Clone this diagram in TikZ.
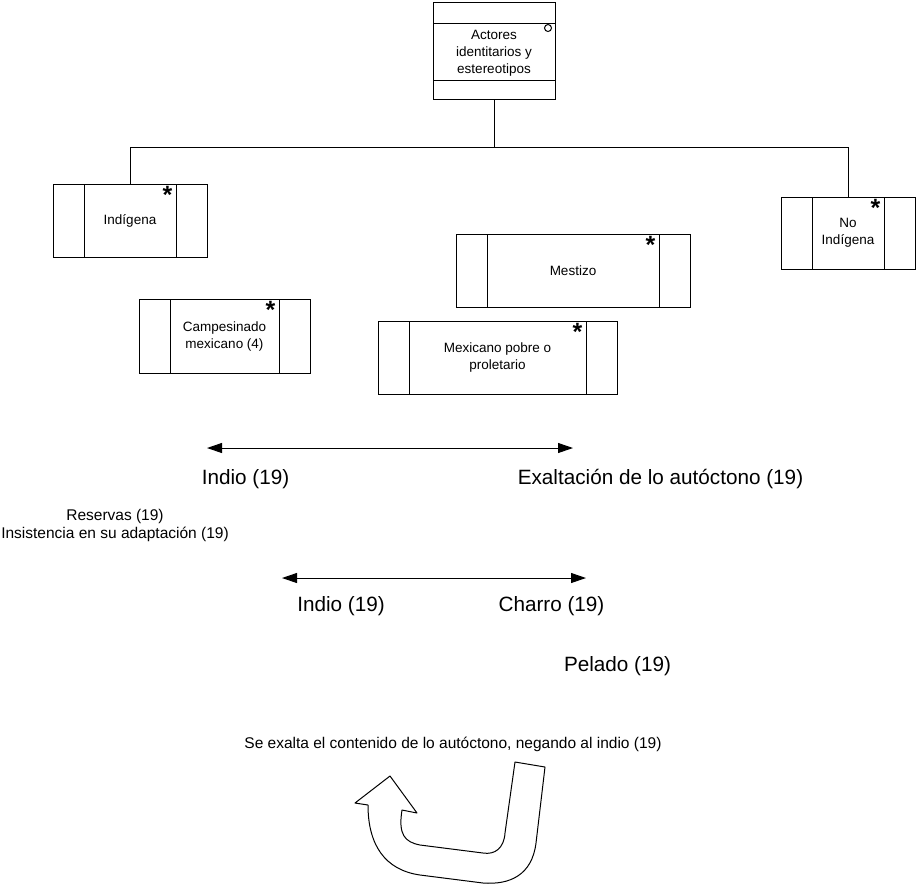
\documentclass[tikz,border=0pt]{standalone}
\usepackage{fontspec}
\setmainfont{Liberation Sans}
\usetikzlibrary{arrows.meta}

\tikzset{
	line/.style={draw=black,line width=1pt},
	actor/.style={line,inner sep=0pt,align=center,font=\fontsize{13.5}{17}\selectfont,
		label={[anchor=north,inner sep=0pt,xshift=-40pt,yshift=-3pt,font=\fontsize{25}{25}\selectfont\bfseries]north east:*},
		path picture={
			\draw[line] ([xshift=31pt]path picture bounding box.north west) -- ([xshift=31pt]path picture bounding box.south west);
			\draw[line] ([xshift=-31pt]path picture bounding box.north east) -- ([xshift=-31pt]path picture bounding box.south east);
		}},
	classbox/.style={line,inner sep=0pt,align=center,font=\fontsize{13.5}{17}\selectfont,
		path picture={
			\draw[line] ([yshift=-21pt]path picture bounding box.north west) -- ([yshift=-21pt]path picture bounding box.north east);
			\draw[line] ([yshift=19pt]path picture bounding box.south west) -- ([yshift=19pt]path picture bounding box.south east);
		}},
	biarrow/.style={line,{Triangle[length=15pt,width=10pt]}-{Triangle[length=15pt,width=10pt]}},
	big/.style={inner sep=0pt,font=\fontsize{20.7}{24}\selectfont},
	small/.style={inner sep=0pt,align=center,font=\fontsize{15.5}{18}\selectfont}
}

\begin{document}
\begin{tikzpicture}[x=1pt,y=-1pt]
		\useasboundingbox (0,0) rectangle (917,887);

		%top class
		\node[classbox,minimum width=122pt,minimum height=97pt] (actores) at (494,50.5) {\\[-3pt]Actores\\identitarios y\\estereotipos};
		\node[line,circle,inner sep=0pt,minimum size=7pt] (abstracto) at (548,28) {};

		%actors
		\node[actor,minimum width=154pt,minimum height=73pt] (indigena) at (130,220.5) {Ind\'igena};
		\node[actor,minimum width=134pt,minimum height=72pt] (noindigena) at (848,233) {No\\Ind\'igena};
		\node[actor,minimum width=234pt,minimum height=73pt] (mestizo) at (573,270.5) {Mestizo};
		\node[actor,minimum width=171pt,minimum height=74pt] (campesinado) at (224.5,336) {Campesinado\\mexicano (4)};
		\node[actor,minimum width=239pt,minimum height=73pt] (proletario) at (497.5,357.5) {Mexicano pobre o\\proletario};

		%edges
		\coordinate (bus) at (494,147);
		\draw[line] (actores.south) -- (bus);
		\draw[line] (bus) -| (indigena.north);
		\draw[line] (bus) -| (noindigena.north);

		%first axis
		\coordinate (a1) at (207,448);
		\coordinate (b1) at (573,448);
		\draw[biarrow] (a1) -- (b1);
		\node[big] (indio1) at (245.5,479) {Indio (19)};
		\node[big] (exaltacion) at (660.5,479) {Exaltaci\'on de lo aut\'octono (19)};
		\node[small] (reservas) at (115,525) {Reservas (19)\\Insistencia en su adaptaci\'on (19)};

		%second axis
		\coordinate (a2) at (282,578);
		\coordinate (b2) at (586,578);
		\draw[biarrow] (a2) -- (b2);
		\node[big] (indio2) at (341,606) {Indio (19)};
		\node[big] (charro) at (551.5,606) {Charro (19)};
		\node[big] (pelado) at (617.5,666) {Pelado (19)};

		%u-turn
		\node[small] (niega) at (453,744) {Se exalta el contenido de lo aut\'octono, negando al indio (19)};
		\draw[line,line join=round] (515,762) -- (545,767) -- (536,843)
			.. controls (532,875) and (510,885) .. (483,883) -- (420,875)
			.. controls (385,870) and (368,845) .. (368,805) -- (355,803) -- (390,776) -- (417,813) -- (402,810)
			.. controls (398,835) and (405,842) .. (420,845) -- (483,853)
			.. controls (495,855) and (504,848) .. (505,833) -- cycle;
\end{tikzpicture}
\end{document}
